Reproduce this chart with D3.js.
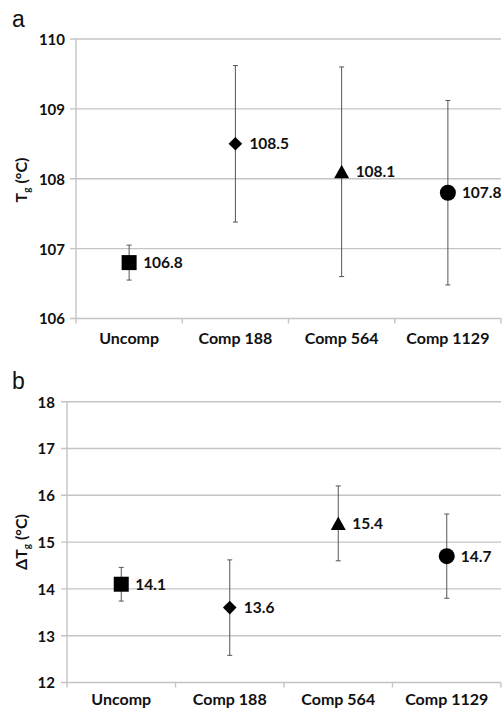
<!DOCTYPE html>
<html>
<head>
<meta charset="utf-8">
<script src="https://cdn.jsdelivr.net/npm/d3@7"></script>
<style>
  html, body { margin: 0; padding: 0; background: #fff; }
  svg { display: block; }
</style>
</head>
<body>
<svg id="chart" width="503" height="709"></svg>
<script>
// Sample groups and marker shape per group
const categories = ["Uncomp", "Comp 188", "Comp 564", "Comp 1129"];
const markerShapes = ["square", "diamond", "triangle", "circle"];

// Panel a: glass transition temperature Tg (°C), mean and ± error
const tgMean = [106.8, 108.5, 108.1, 107.8];
const tgErr = [0.25, 1.12, 1.5, 1.32];
const tgTicks = [106, 107, 108, 109, 110];

// Panel b: transition width ΔTg (°C), mean and ± error
const dtgMean = [14.1, 13.6, 15.4, 14.7];
const dtgErr = [0.36, 1.02, 0.8, 0.9];
const dtgTicks = [12, 13, 14, 15, 16, 17, 18];

const svg = d3.select("#chart");
const FONT = "Lato, 'Open Sans', 'Liberation Sans', sans-serif";
const GRID = "#c4c4c4";
const ERR = "#555";

function markerPath(shape) {
  const p = d3.path();
  if (shape === "square") {
    p.rect(-7.5, -7.5, 15, 15);
  } else if (shape === "diamond") {
    p.moveTo(0, -6.8); p.lineTo(6.8, 0); p.lineTo(0, 6.8); p.lineTo(-6.8, 0); p.closePath();
  } else if (shape === "triangle") {
    p.moveTo(0, -7); p.lineTo(7.5, 6.5); p.lineTo(-7.5, 6.5); p.closePath();
  } else {
    p.arc(0, 0, 8, 0, 2 * Math.PI);
  }
  return p.toString();
}

function drawPanel(cfg) {
  const g = svg.append("g");
  const x = d3.scaleBand().domain(categories).range([cfg.left, cfg.right]);
  const y = d3.scaleLinear().domain(d3.extent(cfg.ticks)).range([cfg.bottom, cfg.top]);

  // horizontal gridlines, reaching a little left of the axis as tick marks
  g.selectAll("line.grid").data(cfg.ticks).join("line")
    .attr("class", "grid")
    .attr("x1", cfg.left - 6).attr("x2", cfg.right)
    .attr("y1", d => y(d)).attr("y2", d => y(d))
    .attr("stroke", GRID).attr("stroke-width", 1.4);

  // vertical axis line
  g.append("line")
    .attr("x1", cfg.left).attr("x2", cfg.left)
    .attr("y1", cfg.top).attr("y2", cfg.bottom + 5)
    .attr("stroke", GRID).attr("stroke-width", 1.4);

  // category separator ticks below the horizontal axis
  const seps = categories.slice(1).map(c => x(c)).concat([cfg.right]);
  g.selectAll("line.sep").data(seps).join("line")
    .attr("class", "sep")
    .attr("x1", d => d).attr("x2", d => d)
    .attr("y1", cfg.bottom).attr("y2", cfg.bottom + 5)
    .attr("stroke", GRID).attr("stroke-width", 1.4);

  // y tick labels
  const yAxis = g.append("g")
    .attr("transform", `translate(${cfg.left},0)`)
    .call(d3.axisLeft(y).tickValues(cfg.ticks).tickSize(0).tickPadding(cfg.pad).tickFormat(d3.format("d")));
  yAxis.select(".domain").remove();
  yAxis.selectAll("text")
    .attr("font-family", FONT).attr("font-weight", "bold").attr("font-size", 15)
    .attr("fill", "#111").attr("dy", "0.36em");

  // x category labels
  const xAxis = g.append("g")
    .attr("transform", `translate(0,${cfg.bottom})`)
    .call(d3.axisBottom(x).tickSize(0));
  xAxis.select(".domain").remove();
  xAxis.selectAll("text")
    .attr("font-family", FONT).attr("font-weight", "bold").attr("font-size", 16)
    .attr("fill", "#111").attr("y", cfg.labelOffset).attr("dy", null);

  const rows = categories.map((c, i) => ({
    cx: x(c) + x.bandwidth() / 2,
    mean: cfg.mean[i], err: cfg.err[i], shape: markerShapes[i]
  }));

  // error bars with small caps
  const eb = g.selectAll("g.err").data(rows).join("g").attr("class", "err")
    .attr("stroke", ERR).attr("stroke-width", 1);
  eb.append("line")
    .attr("x1", d => d.cx).attr("x2", d => d.cx)
    .attr("y1", d => y(d.mean - d.err)).attr("y2", d => y(d.mean + d.err));
  eb.append("line")
    .attr("x1", d => d.cx - 2.5).attr("x2", d => d.cx + 2.5)
    .attr("y1", d => y(d.mean + d.err)).attr("y2", d => y(d.mean + d.err));
  eb.append("line")
    .attr("x1", d => d.cx - 2.5).attr("x2", d => d.cx + 2.5)
    .attr("y1", d => y(d.mean - d.err)).attr("y2", d => y(d.mean - d.err));

  // markers
  g.selectAll("path.mk").data(rows).join("path")
    .attr("class", "mk")
    .attr("d", d => markerPath(d.shape))
    .attr("transform", d => `translate(${d.cx},${y(d.mean)})`)
    .attr("fill", "#000");

  // value labels
  g.selectAll("text.val").data(rows).join("text")
    .attr("class", "val")
    .attr("x", d => d.cx + 14).attr("y", d => y(d.mean)).attr("dy", "0.36em")
    .attr("font-family", FONT).attr("font-weight", "bold").attr("font-size", 15.5)
    .attr("fill", "#111")
    .text(d => d3.format(".1f")(d.mean));

  // rotated y-axis title
  const t = g.append("text")
    .attr("transform", `translate(27,${cfg.titleY}) rotate(-90)`)
    .attr("text-anchor", "middle")
    .attr("font-family", FONT).attr("font-weight", "bold").attr("font-size", 16)
    .attr("fill", "#111");
  t.append("tspan").text(cfg.titlePre + "T");
  t.append("tspan").attr("font-size", 10).attr("dy", 3).text("g");
  t.append("tspan").attr("dy", -3).text(" (°C)");

  // panel letter
  svg.append("text")
    .attr("x", 12).attr("y", cfg.letterY)
    .attr("font-family", "'Liberation Sans', Arial, sans-serif").attr("font-size", 23)
    .attr("fill", "#111")
    .text(cfg.letter);
}

drawPanel({
  letter: "a", letterY: 27,
  left: 76, right: 501, top: 39, bottom: 318.5, pad: 11, labelOffset: 25.5,
  ticks: tgTicks, mean: tgMean, err: tgErr,
  titlePre: "", titleY: 180
});

drawPanel({
  letter: "b", letterY: 389,
  left: 67, right: 501, top: 401.7, bottom: 682.5, pad: 12, labelOffset: 22.5,
  ticks: dtgTicks, mean: dtgMean, err: dtgErr,
  titlePre: "Δ", titleY: 542
});
</script>
</body>
</html>
